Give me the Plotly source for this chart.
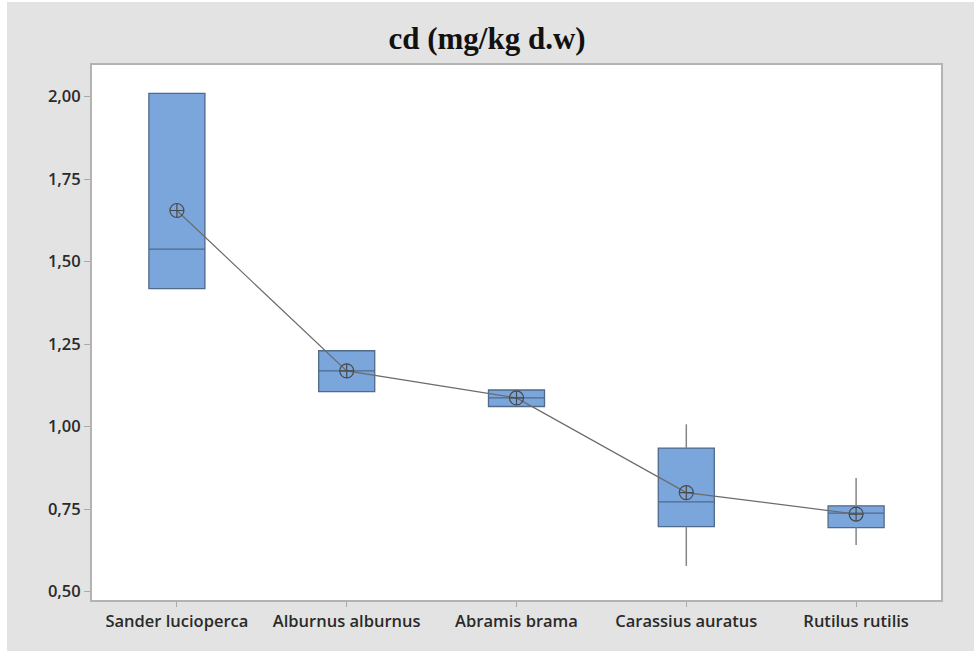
import plotly.graph_objects as go

# Cd concentration per species (mg/kg dry weight)
species = ["Sander lucioperca", "Alburnus alburnus", "Abramis brama",
           "Carassius auratus", "Rutilus rutilis"]
q1 = [1.418, 1.106, 1.061, 0.697, 0.694]
median = [1.538, 1.169, 1.087, 0.772, 0.738]
q3 = [2.010, 1.230, 1.111, 0.935, 0.760]
lower_whisker = [1.418, 1.106, 1.061, 0.578, 0.641]
upper_whisker = [2.010, 1.230, 1.111, 1.007, 0.844]
means = [1.655, 1.169, 1.087, 0.800, 0.735]

y_ticks = [0.50, 0.75, 1.00, 1.25, 1.50, 1.75, 2.00]

W, H = 974, 651
L, R, T, B = 92, 33, 65, 51
plot_w = W - L - R

fig = go.Figure()

fig.add_trace(go.Box(
    x=species,
    q1=q1, median=median, q3=q3,
    lowerfence=q1, upperfence=q3,
    width=0.33,
    whiskerwidth=0,
    fillcolor="#7aa6dc",
    line=dict(color="#4f6a8a", width=1.3),
    boxpoints=False,
    hoverinfo="skip",
    showlegend=False,
))

# whiskers: grey segments from box edges out to the extremes
wx, wy = [], []
for s, lo, a, b, hi in zip(species, lower_whisker, q1, q3, upper_whisker):
    if lo < a:
        wx += [s, s, None]
        wy += [lo, a, None]
    if hi > b:
        wx += [s, s, None]
        wy += [b, hi, None]
fig.add_trace(go.Scatter(
    x=wx, y=wy, mode="lines",
    line=dict(color="#858585", width=1.5),
    showlegend=False, hoverinfo="skip",
))

# Mean connect line with mean symbols
fig.add_trace(go.Scatter(
    x=species, y=means,
    mode="lines+markers",
    line=dict(color="#6b6b6b", width=1.2),
    marker=dict(symbol="circle-cross-open", size=14,
                color="#4a4a4a", line=dict(width=1.2, color="#4a4a4a")),
    showlegend=False,
    hoverinfo="skip",
))

# thin white edges of the graphic frame
fig.add_shape(type="rect", xref="paper", yref="paper",
              x0=-L / plot_w, x1=(7 - L) / plot_w, y0=-2, y1=2,
              fillcolor="white", line=dict(width=0), layer="below")
fig.add_shape(type="rect", xref="paper", yref="paper",
              x0=-1, x1=2, y0=1 + (T - 2) / (H - T - B), y1=1 + T / (H - T - B) + 1,
              fillcolor="white", line=dict(width=0), layer="below")

tick_font = dict(family="Open Sans", size=16.5, color="#2a2a2a", weight=600)

fig.update_layout(
    width=W, height=H,
    margin=dict(l=L, r=R, t=T, b=B),
    paper_bgcolor="#e3e3e3",
    plot_bgcolor="white",
    separators=",.",
    title=dict(
        text="<b>cd (mg/kg d.w)</b>",
        font=dict(family="Liberation Serif", size=31, color="#111111"),
        x=0.5, xanchor="center", y=1 - 38 / H, yanchor="middle",
    ),
    xaxis=dict(
        type="category",
        range=[-0.5, 4.5],
        showline=True, linecolor="#b3b3b3", linewidth=2, mirror=True,
        ticks="outside", ticklen=5, tickcolor="#aaaaaa", tickwidth=1,
        tickfont=tick_font,
        showgrid=False, zeroline=False,
        fixedrange=True,
    ),
    yaxis=dict(
        range=[0.4745, 2.096],
        tickvals=y_ticks,
        tickformat=".2f",
        showline=True, linecolor="#b3b3b3", linewidth=2, mirror=True,
        ticks="outside", ticklen=6, tickcolor="#aaaaaa", tickwidth=1,
        tickfont=tick_font,
        showgrid=False, zeroline=False,
        fixedrange=True,
    ),
)

fig.write_html("out.html")
